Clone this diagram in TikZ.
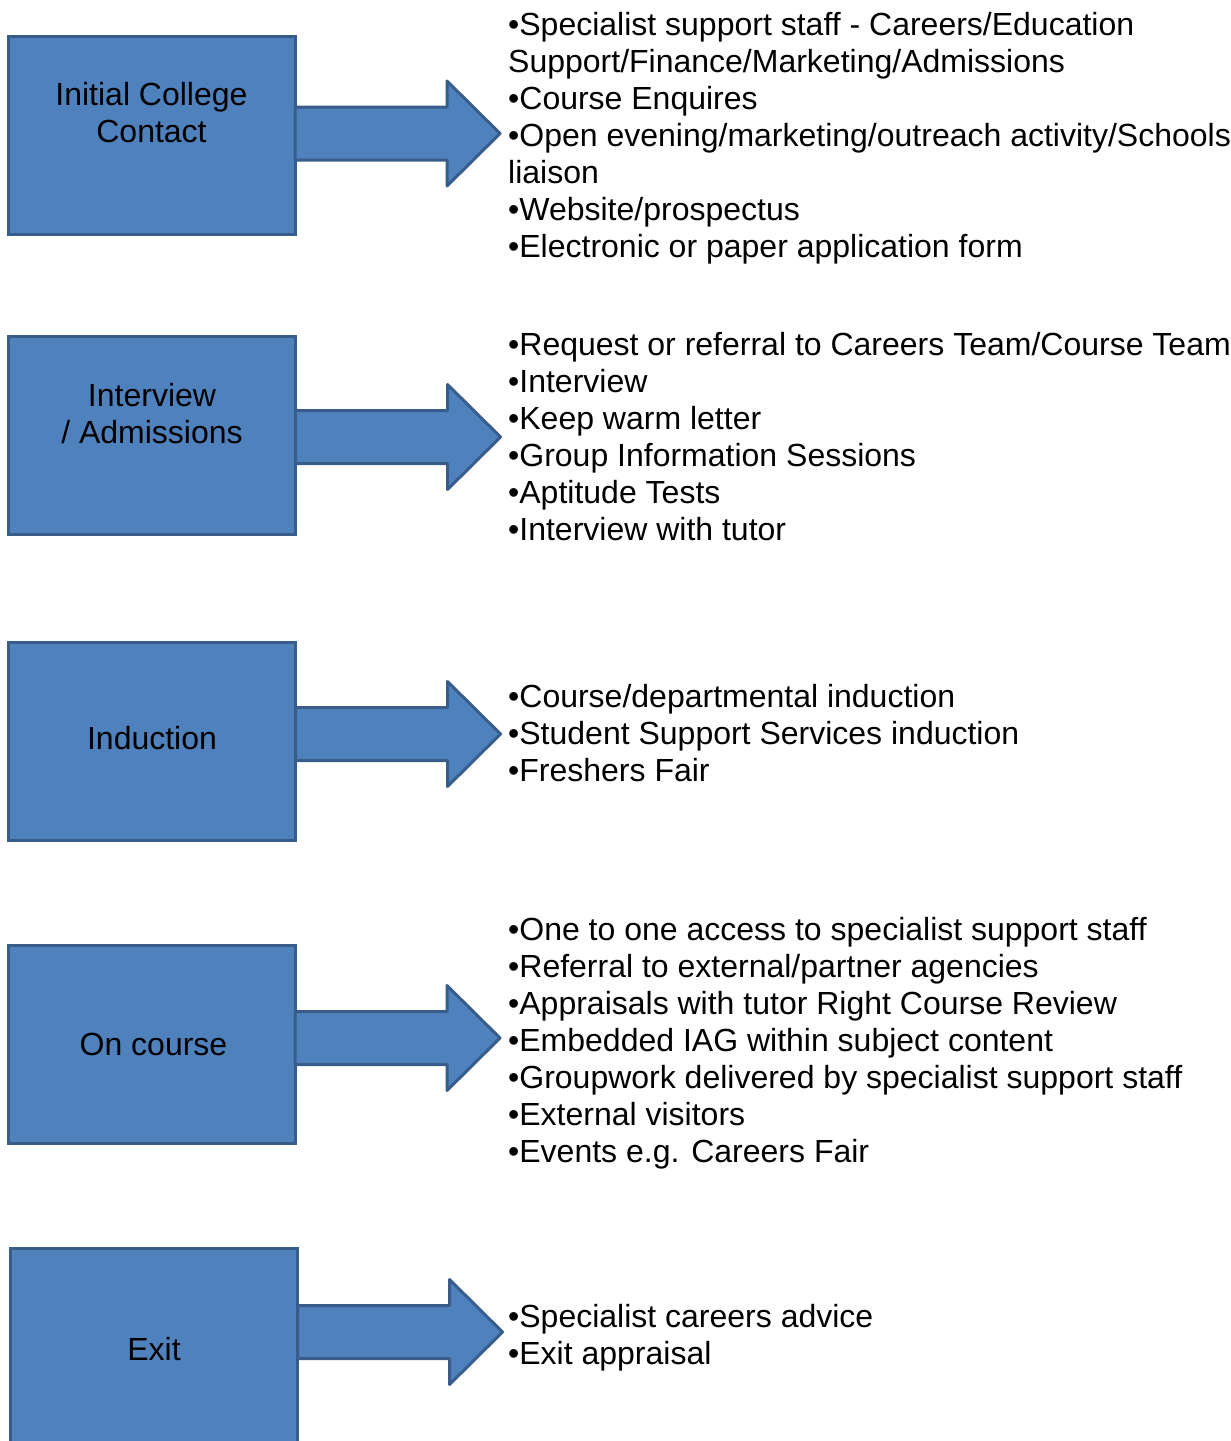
\documentclass[tikz,border=0pt]{standalone}
\usepackage{fontspec}
\setmainfont{Liberation Sans}
\usepackage{tikz}
\usetikzlibrary{positioning}
\definecolor{stageblue}{HTML}{4F81BD}
\definecolor{stageedge}{HTML}{385D8A}
\tikzset{
	stage/.style={draw=stageedge, fill=stageblue, line width=3pt, minimum width=287pt, minimum height=198pt, inner sep=0pt},
	stagearrow/.style={draw=stageedge, fill=stageblue, line width=3pt, line join=round},
	stagetext/.style={align=center, font=\fontsize{32}{37}\selectfont},
	itemlist/.style={align=left, anchor=base west, inner sep=0pt, font=\fontsize{32}{37}\selectfont}
}

\begin{document}
\begin{tikzpicture}[x=1pt, y=-1pt]
			\useasboundingbox (0,0) rectangle (1231,1441);

			% Define nodes
			\node[stage] (contact) at (151.5,135) {};
			\node[stage] (interview) at (152,435) {};
			\node[stage] (induction) at (152,741) {};
			\node[stage] (oncourse) at (151.5,1044) {};
			\node[stage] (exit) at (154,1347) {};

			\node[stagetext] (contacttext) at ([yshift=22pt]contact.center) {Initial College\\Contact};
			\node[stagetext] (interviewtext) at ([yshift=21pt]interview.center) {Interview\\/ Admissions};
			\node[stagetext] (inductiontext) at ([yshift=3pt]induction.center) {Induction};
			\node[stagetext] (oncoursetext) at ([xshift=2pt]oncourse.center) {On course};
			\node[stagetext] (exittext) at ([yshift=-2pt]exit.center) {Exit};

			% lists are placed by the baseline of their last line
			\node[itemlist] (contactlist) at (508,257) {•Specialist support staff - Careers/Education\\Support/Finance/Marketing/Admissions\\•Course Enquires\\•Open evening/marketing/outreach activity/Schools\\liaison\\•Website/prospectus\\•Electronic or paper application form};
			\node[itemlist] (interviewlist) at (508,540) {•Request or referral to Careers Team/Course Team\\•Interview\\•Keep warm letter\\•Group Information Sessions\\•Aptitude Tests\\•Interview with tutor};
			\node[itemlist] (inductionlist) at (508,781) {•Course/departmental induction\\•Student Support Services induction\\•Freshers Fair};
			\node[itemlist] (oncourselist) at (508,1162) {•One to one access to specialist support staff\\•Referral to external/partner agencies\\•Appraisals with tutor Right Course Review\\•Embedded IAG within subject content\\•Groupwork delivered by specialist support staff\\•External visitors\\•Events e.g. Careers Fair};
			\node[itemlist] (exitlist) at (508,1364) {•Specialist careers advice\\•Exit appraisal};

			% Connect the nodes
			\foreach \b/\d in {contact/1.5, interview/-2, induction/7, oncourse/6, exit/15}
				\draw[stagearrow] ([xshift=-1.5pt, yshift=\d pt]\b.east) ++(0,-26.5) -- ++(152,0) -- ++(0,-26) -- ++(53,52.5) -- ++(-53,52.5) -- ++(0,-26) -- ++(-152,0) -- cycle;
		\end{tikzpicture}
\end{document}
